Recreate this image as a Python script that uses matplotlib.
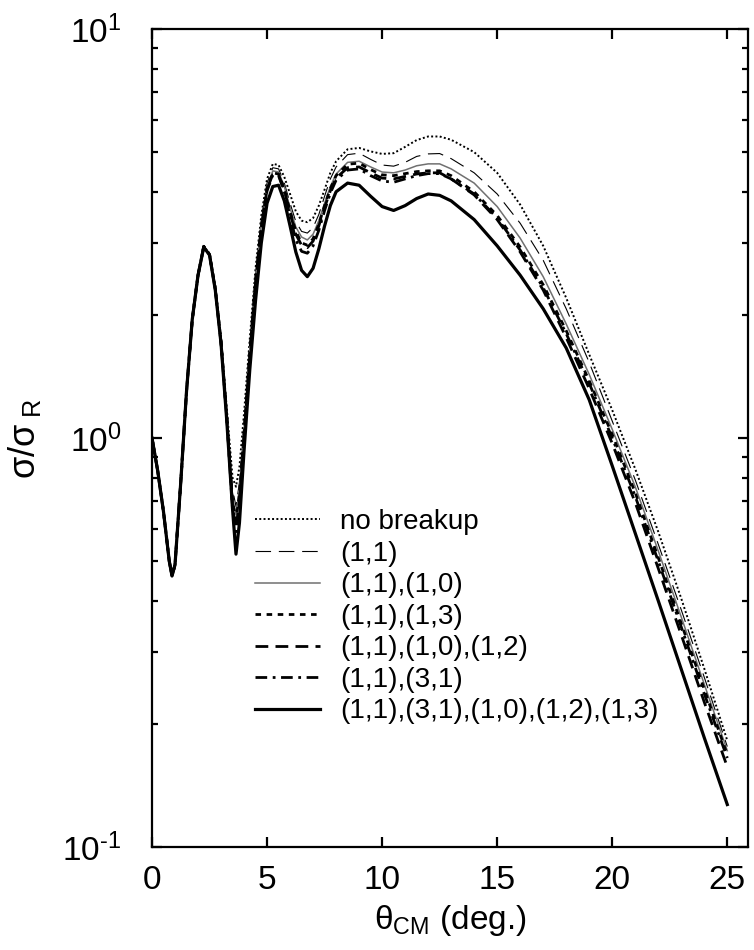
import matplotlib
matplotlib.use("Agg")
import matplotlib.pyplot as plt
from matplotlib.ticker import LogLocator, NullFormatter, MultipleLocator, FuncFormatter
import numpy as np

plt.rcParams['font.family'] = ['Liberation Sans', 'DejaVu Sans']
plt.rcParams['mathtext.fontset'] = 'custom'
plt.rcParams['mathtext.rm'] = 'Liberation Sans'
plt.rcParams['mathtext.it'] = 'Liberation Sans:italic'
plt.rcParams['axes.unicode_minus'] = False

# scattering angle grid (deg.)
theta = [0, 0.25, 0.5, 0.75, 0.87, 1.0, 1.25, 1.5, 1.75, 2.0, 2.25, 2.5, 2.75,
         3.0, 3.25, 3.5, 3.65, 3.8, 4.0, 4.25, 4.5, 4.75, 5.0, 5.25, 5.5, 5.75,
         6.0, 6.25, 6.5, 6.75, 7.0, 7.25, 7.5, 7.75, 8.0, 8.5, 9.0, 9.5, 10.0,
         10.5, 11.0, 11.5, 12.0, 12.5, 13.0, 14.0, 15.0, 16.0, 17.0, 18.0, 19.0,
         20.0, 21.0, 22.0, 23.0, 24.0, 25.0]

# sigma / sigma_R for each calculation
no_breakup = [1.0, 0.83, 0.66, 0.5, 0.46, 0.49, 0.78, 1.3, 1.95, 2.5, 2.95, 2.82,
              2.35, 1.75, 1.18, 0.8, 0.76, 0.85, 1.15, 1.75, 2.6, 3.5, 4.3, 4.68,
              4.65, 4.35, 3.95, 3.58, 3.4, 3.37, 3.45, 3.7, 4.05, 4.45, 4.75, 5.08,
              5.12, 5.02, 4.95, 4.97, 5.15, 5.35, 5.46, 5.46, 5.36, 5.0, 4.45, 3.72,
              2.95, 2.2, 1.6, 1.17, 0.84, 0.59, 0.405, 0.273, 0.182]
c11 = [1.0, 0.83, 0.66, 0.5, 0.46, 0.49, 0.78, 1.3, 1.95, 2.5, 2.94, 2.81,
       2.33, 1.73, 1.14, 0.75, 0.68, 0.78, 1.08, 1.68, 2.5, 3.4, 4.2, 4.58,
       4.55, 4.2, 3.75, 3.38, 3.2, 3.17, 3.27, 3.52, 3.9, 4.3, 4.6, 4.93,
       4.97, 4.8, 4.65, 4.62, 4.72, 4.88, 4.95, 4.96, 4.82, 4.45, 3.95, 3.35,
       2.72, 2.07, 1.53, 1.1, 0.79, 0.55, 0.38, 0.26, 0.176]
c11_10 = [1.0, 0.83, 0.66, 0.5, 0.46, 0.49, 0.78, 1.3, 1.95, 2.5, 2.94, 2.81,
          2.32, 1.72, 1.13, 0.72, 0.65, 0.75, 1.05, 1.64, 2.45, 3.35, 4.12, 4.5,
          4.47, 4.12, 3.65, 3.28, 3.1, 3.05, 3.15, 3.4, 3.75, 4.12, 4.42, 4.72,
          4.75, 4.6, 4.47, 4.45, 4.52, 4.63, 4.68, 4.68, 4.55, 4.2, 3.68, 3.08,
          2.48, 1.9, 1.43, 1.05, 0.76, 0.53, 0.365, 0.25, 0.172]
c11_13 = [1.0, 0.83, 0.66, 0.5, 0.46, 0.49, 0.78, 1.3, 1.95, 2.5, 2.94, 2.81,
          2.32, 1.72, 1.12, 0.7, 0.63, 0.73, 1.03, 1.62, 2.42, 3.3, 4.08, 4.45,
          4.42, 4.07, 3.58, 3.2, 3.0, 2.96, 3.07, 3.33, 3.7, 4.07, 4.38, 4.67,
          4.7, 4.53, 4.4, 4.38, 4.43, 4.48, 4.5, 4.5, 4.38, 4.0, 3.5, 2.93,
          2.37, 1.83, 1.38, 1.02, 0.735, 0.51, 0.352, 0.243, 0.168]
c11_10_12 = [1.0, 0.83, 0.66, 0.5, 0.46, 0.49, 0.78, 1.3, 1.95, 2.5, 2.94, 2.81,
             2.31, 1.71, 1.12, 0.68, 0.6, 0.7, 1.0, 1.6, 2.4, 3.27, 4.05, 4.42,
             4.4, 4.03, 3.55, 3.15, 2.96, 2.92, 3.03, 3.3, 3.66, 4.02, 4.32, 4.58,
             4.6, 4.45, 4.32, 4.3, 4.36, 4.42, 4.45, 4.45, 4.3, 3.93, 3.42, 2.85,
             2.3, 1.76, 1.32, 0.97, 0.695, 0.48, 0.33, 0.226, 0.157]
c11_31 = [1.0, 0.83, 0.66, 0.5, 0.46, 0.49, 0.78, 1.3, 1.95, 2.5, 2.94, 2.81,
          2.31, 1.71, 1.12, 0.67, 0.59, 0.69, 0.99, 1.58, 2.38, 3.25, 4.02, 4.4,
          4.38, 4.0, 3.48, 3.05, 2.86, 2.83, 2.95, 3.22, 3.6, 3.97, 4.27, 4.52,
          4.55, 4.38, 4.25, 4.22, 4.3, 4.38, 4.43, 4.43, 4.3, 3.95, 3.45, 2.88,
          2.33, 1.8, 1.36, 1.0, 0.72, 0.5, 0.345, 0.237, 0.165]
c_all = [1.0, 0.83, 0.66, 0.5, 0.46, 0.49, 0.78, 1.3, 1.95, 2.5, 2.93, 2.8,
         2.3, 1.7, 1.1, 0.67, 0.52, 0.62, 0.93, 1.47, 2.17, 3.0, 3.75, 4.12,
         4.15, 3.8, 3.3, 2.85, 2.57, 2.48, 2.6, 2.9, 3.3, 3.7, 4.0, 4.2,
         4.15, 3.9, 3.68, 3.6, 3.7, 3.85, 3.95, 3.92, 3.8, 3.42, 2.95, 2.5,
         2.07, 1.66, 1.24, 0.855, 0.585, 0.4, 0.272, 0.185, 0.127]

labels = ["no breakup", "(1,1)", "(1,1),(1,0)", "(1,1),(1,3)",
          "(1,1),(1,0),(1,2)", "(1,1),(3,1)", "(1,1),(3,1),(1,0),(1,2),(1,3)"]

fig = plt.figure(figsize=(7.54, 9.5), dpi=100)
ax = fig.add_axes([152 / 754, 103 / 950, 596 / 754, 818 / 950])

ax.plot(theta, no_breakup, color="black", lw=1.4, ls=(0, (1, 1.2)), label=labels[0])
ax.plot(theta, c11, color="black", lw=0.8, ls=(0, (14, 7)), label=labels[1])
ax.plot(theta, c11_10, color="#707070", lw=1.1, ls="-", label=labels[2])
ax.plot(theta, c11_13, color="black", lw=2.0, ls=(0, (2.0, 2.0)), label=labels[3])
ax.plot(theta, c11_10_12, color="black", lw=2.0, ls=(0, (4.6, 2.6)), label=labels[4])
ax.plot(theta, c11_31, color="black", lw=2.0, ls=(0, (4.2, 2.0, 1.0, 2.0)), label=labels[5])
ax.plot(theta, c_all, color="black", lw=2.3, ls="-", label=labels[6])

ax.set_yscale("log")
ax.set_xlim(0, 25.9)
ax.set_ylim(0.1, 10)
ax.xaxis.set_major_locator(MultipleLocator(5))
ax.yaxis.set_major_locator(LogLocator(base=10, numticks=10))
ax.yaxis.set_minor_locator(LogLocator(base=10, subs=range(2, 10), numticks=10))
ax.yaxis.set_minor_formatter(NullFormatter())


def decade(v, pos):
    e = int(round(np.log10(v)))
    s = str(e).replace("-", "\u2010")
    return "10$^{\\mathrm{%s}}$" % s


ax.yaxis.set_major_formatter(FuncFormatter(decade))

for s in ax.spines.values():
    s.set_linewidth(1.6)
ax.tick_params(which="both", direction="in", top=True, right=True,
               labelsize=24, width=1.6)
ax.tick_params(which="major", length=7)
ax.tick_params(which="minor", length=4)
ax.tick_params(axis="x", which="major", pad=13)
ax.tick_params(axis="y", which="major", pad=22)

ax.set_xlabel("θ$_{\\mathrm{CM}}$ (deg.)", fontsize=24, labelpad=5)
ax.set_ylabel("σ/σ$_{\\ \\mathrm{R}}$", fontsize=26, labelpad=14)

ax.legend(loc="upper left", bbox_to_anchor=(0.172, 0.413), frameon=False,
          fontsize=20, handlelength=2.35, handletextpad=0.72, labelspacing=0.2,
          borderpad=0, borderaxespad=0)

fig.savefig("out.png", dpi=100)
